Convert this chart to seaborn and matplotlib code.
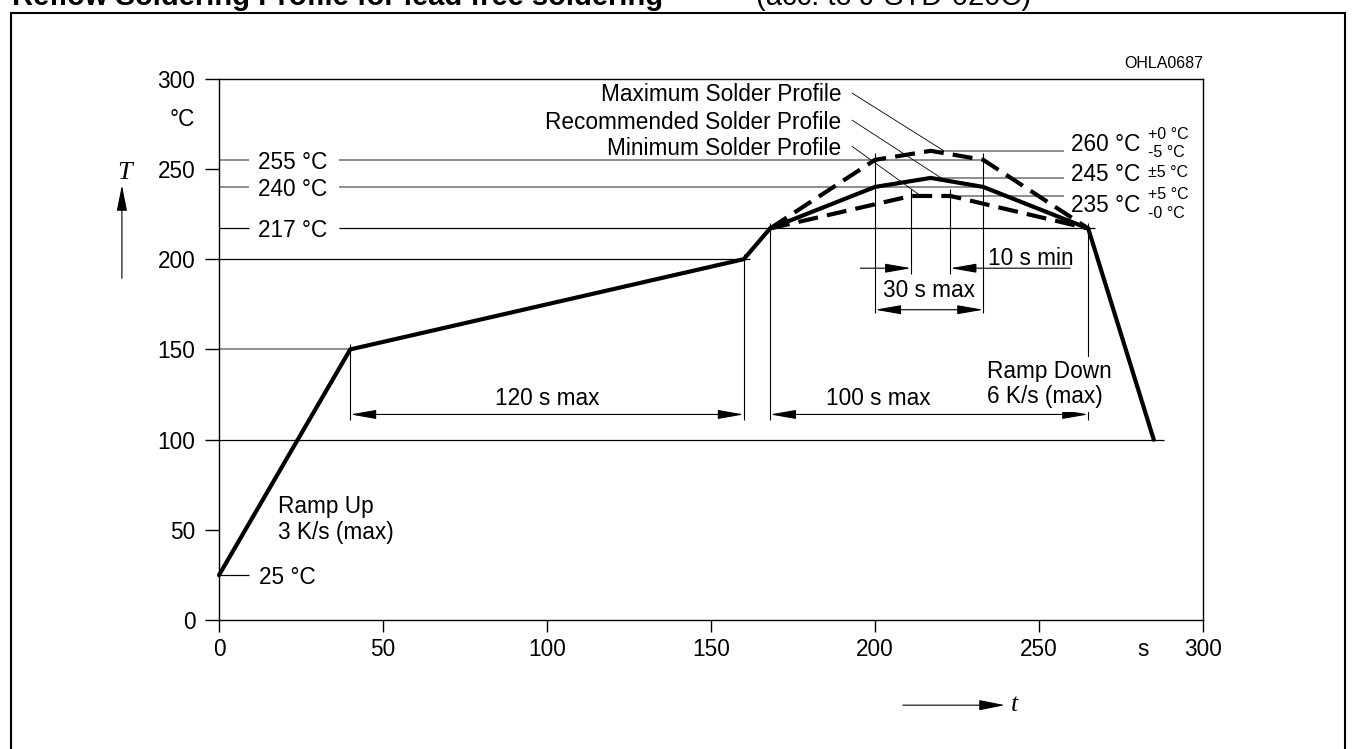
import matplotlib
matplotlib.use("Agg")
import matplotlib.pyplot as plt
from matplotlib.patches import Rectangle
import pandas as pd
import seaborn as sns

# ---------------- data ----------------
rec_t = [0, 40, 160, 168, 200, 217, 233, 265, 285]
rec_T = [25, 150, 200, 217, 240, 245, 240, 217, 100]
max_t = [168, 200, 217, 233, 265]
max_T = [217, 255, 260, 255, 217]
min_t = [168, 211, 223, 265]
min_T = [217, 235, 235, 217]

x_ticks = [0, 50, 100, 150, 200, 250, 300]
y_ticks = [0, 50, 100, 150, 200, 250, 300]

# horizontal reference lines: level, start t, end t, gray?
ref_level = [255, 255, 240, 240, 217, 217, 200, 150, 100, 25, 260, 245, 235]
ref_start = [0, 36.5, 0, 36.5, 0, 36.5, 0, 0, 0, 0, 220, 219, 223]
ref_end = [9, 233, 9, 233, 9, 267, 162, 40, 288, 9, 257.5, 257.5, 257.5]
ref_gray = [1, 1, 1, 1, 0, 0, 0, 1, 0, 0, 1, 1, 1]

# vertical reference lines: t, low T, high T
vref_t = [40, 160, 168, 265, 200, 233, 211, 223]
vref_lo = [111, 111, 111, 111, 170, 170, 192, 192]
vref_hi = [153, 203, 220, 220, 259, 259, 239, 239]

left_labels = ["255 °C", "240 °C", "217 °C"]
left_levels = [255, 240, 217]
right_main = ["260 °C", "245 °C", "235 °C"]
right_main_T = [264.7, 248.0, 231.0]
right_small = ["+0 °C", "-5 °C", "±5 °C", "+5 °C", "-0 °C"]
right_small_T = [269.7, 259.7, 248.6, 236.4, 226.0]

profile_names = ["Maximum Solder Profile", "Recommended Solder Profile", "Minimum Solder Profile"]
profile_label_T = [292.4, 276.9, 262.5]
leader_start = [(193, 292), (193, 277), (193, 262.5)]
leader_end = [(221, 260), (221, 244), (214, 235)]

# spans: (t0, t1, T arrow, label, label t, label T)
spans = [(40, 160, 114, "120 s max", 100, 124),
         (168, 265, 114, "100 s max", 201, 124),
         (200, 233, 172, "30 s max", 216.5, 184)]

# ---------------- figure ----------------
W, H = 1356, 749
sns.set_theme(style="white")
plt.rcParams["font.family"] = ["Liberation Sans", "DejaVu Sans"]
FS = 16.3

fig = plt.figure(figsize=(W / 100, H / 100), dpi=100)
ax_l, ax_r, ax_top, ax_bot = 219, 1203, 78.6, 620.3
ax = fig.add_axes([ax_l / W, (H - ax_bot) / H, (ax_r - ax_l) / W, (ax_bot - ax_top) / H])

df = pd.concat([
    pd.DataFrame({"t": rec_t, "T": rec_T, "profile": "Recommended"}),
    pd.DataFrame({"t": max_t, "T": max_T, "profile": "Maximum"}),
    pd.DataFrame({"t": min_t, "T": min_T, "profile": "Minimum"}),
], ignore_index=True)

sns.lineplot(data=df, x="t", y="T", hue="profile", style="profile",
             palette={"Recommended": "black", "Maximum": "black", "Minimum": "black"},
             dashes={"Recommended": "", "Maximum": (4.8, 2.2), "Minimum": (4.8, 2.2)},
             linewidth=3, sort=False, estimator=None, legend=False, ax=ax)
for ln in ax.lines:
    ln.set_solid_joinstyle("miter")
    ln.set_dash_joinstyle("miter")
    ln.set_dash_capstyle("butt")
    ln.set_zorder(4)
    ln.set_clip_on(False)

ax.set_xlim(0, 300)
ax.set_ylim(0, 300)
ax.set_xlabel("")
ax.set_ylabel("")
ax.set_xticks(x_ticks)
ax.set_xticklabels([str(v) for v in x_ticks])
ax.set_yticks(y_ticks)
ax.set_yticklabels([str(v) for v in y_ticks])
for sp in ax.spines.values():
    sp.set_visible(True)
    sp.set_color("black")
    sp.set_linewidth(1.0)
ax.tick_params(axis="x", direction="out", length=8.6, width=1, color="black",
               labelsize=FS, pad=4.3, bottom=True, labelcolor="black")
ax.tick_params(axis="y", direction="out", length=10, width=1, color="black",
               labelsize=FS, pad=7, left=True, labelcolor="black")

# reference lines
for lvl, a, b, g in zip(ref_level, ref_start, ref_end, ref_gray):
    ax.hlines(lvl, a, b, colors="#6f6f6f" if g else "black",
              linewidth=1.1 if g else 0.9, zorder=2, clip_on=False)
for t, lo, hi in zip(vref_t, vref_lo, vref_hi):
    ax.vlines(t, lo, hi, colors="black", linewidth=0.8, zorder=2, clip_on=False)

# left level labels
for lab, lvl in zip(left_labels, left_levels):
    ax.text(12, lvl, lab, fontsize=FS, ha="left", va="center_baseline", color="black")
ax.text(12.2, 25, "25 °C", fontsize=FS, ha="left", va="center_baseline", color="black")

# right level labels
for lab, T in zip(right_main, right_main_T):
    ax.text(259.8, T, lab, fontsize=FS, ha="left", va="center_baseline", color="black")
for lab, T in zip(right_small, right_small_T):
    ax.text(283.2, T, lab, fontsize=11.5, ha="left", va="center_baseline", color="black")

# profile names with leaders
for name, T, s, e in zip(profile_names, profile_label_T, leader_start, leader_end):
    ax.text(189.8, T, name, fontsize=FS, ha="right", va="center_baseline", color="black")
    ax.plot([s[0], e[0]], [s[1], e[1]], color="black", lw=0.6, zorder=5, clip_on=False)

ARW = dict(mutation_scale=20, color="black", lw=0.8, shrinkA=0, shrinkB=0)

# dimension arrows
for t0, t1, Ty, lab, lt, lT in spans:
    ax.annotate("", xy=(t1, Ty), xytext=(t0, Ty),
                arrowprops=dict(arrowstyle="<|-|>,head_length=0.8,head_width=0.14", **ARW),
                annotation_clip=False)
    ax.text(lt, lT, lab, fontsize=FS, ha="center", va="center_baseline", color="black")

# 10 s min
ax.annotate("", xy=(211, 195), xytext=(195.5, 195),
            arrowprops=dict(arrowstyle="-|>,head_length=0.8,head_width=0.14", **ARW),
            annotation_clip=False)
ax.annotate("", xy=(223, 195), xytext=(259.5, 195),
            arrowprops=dict(arrowstyle="-|>,head_length=0.8,head_width=0.14", **ARW),
            annotation_clip=False)
ax.text(234.4, 202, "10 s min", fontsize=FS, ha="left", va="center_baseline", color="black")

# ramp texts
ax.text(18, 64.3, "Ramp Up", fontsize=FS, ha="left", va="center_baseline", color="black")
ax.text(18, 49.9, "3 K/s (max)", fontsize=FS, ha="left", va="center_baseline", color="black")
for lab, T in zip(["Ramp Down", "6 K/s (max)"], [138.9, 125.1]):
    ax.text(234, T, lab, fontsize=FS, ha="left", va="center_baseline", color="black",
            zorder=3, bbox=dict(boxstyle="square,pad=0.15", fc="white", ec="none"))

# units
ax.text(-7.3, 278.7, "°C", fontsize=FS, ha="right", va="center_baseline", color="black")
ax.text(281.7, -9.8, "s", fontsize=FS, ha="center", va="top", color="black")
ax.text(300, 309.1, "OHLA0687", fontsize=11.5, ha="right", va="center_baseline", color="black")

# axis symbol arrows
ax.annotate("", xy=(-29.6, 241), xytext=(-29.6, 189.4),
            arrowprops=dict(arrowstyle="-|>,head_length=0.8,head_width=0.16", **ARW),
            annotation_clip=False)
ax.text(-28.7, 249, "T", fontsize=19, family="Liberation Serif", style="italic",
        ha="center", va="center_baseline", color="black")
ax.annotate("", xy=(239.6, -47), xytext=(208.5, -47),
            arrowprops=dict(arrowstyle="-|>,head_length=0.8,head_width=0.16", **ARW),
            annotation_clip=False)
ax.text(241.5, -45.5, "t", fontsize=19, family="Liberation Serif", style="italic",
        ha="left", va="center_baseline", color="black")

# cut-off title and outer frame
fig.text(12 / W, (H - 5) / H, "Reflow Soldering Profile for lead free soldering",
         fontsize=21, fontweight="bold", ha="left", va="baseline", color="black")
fig.text(756 / W, (H - 5) / H, "(acc. to J-STD-020C)",
         fontsize=21, ha="left", va="baseline", color="black")
fig.patches.append(Rectangle((11 / W, -0.1), (1345 - 11) / W, (H - 13) / H + 0.1,
                             transform=fig.transFigure, fill=False, lw=1.5, ec="black"))

fig.savefig("out.png", dpi=100, facecolor="white")
